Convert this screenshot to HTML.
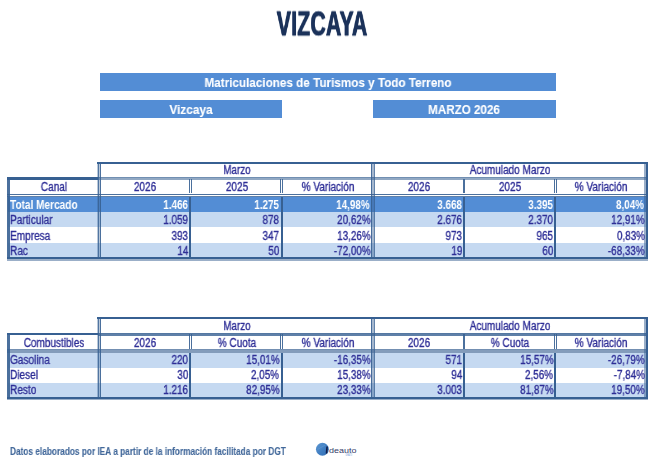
<!DOCTYPE html>
<html><head><meta charset="utf-8"><title>Vizcaya</title>
<style>
html,body{margin:0;padding:0;background:#fff;}
body{width:662px;height:467px;position:relative;overflow:hidden;font-family:"Liberation Sans",Arial,sans-serif;}
.r{position:absolute;}
.t{position:absolute;white-space:nowrap;will-change:transform;}
</style></head><body>
<div class="t" style="top:3.70px;font-size:35.8px;line-height:40px;color:#1B325A;-webkit-text-stroke:0.35px #1B325A;font-weight:bold;letter-spacing:0.45px;text-indent:0.45px;text-shadow:0.7px 0 0 #1B325A,-0.7px 0 0 #1B325A;left:121.70px;width:400px;text-align:center;transform-origin:50% 0;transform:translateY(-0.6px) scaleX(0.59);">VIZCAYA</div>
<div class="r" style="left:100px;top:73px;width:456px;height:18.4px;background:#538DD5;"></div>
<div class="r" style="left:100px;top:100px;width:182px;height:18.3px;background:#538DD5;"></div>
<div class="r" style="left:373px;top:100px;width:183px;height:18.3px;background:#538DD5;"></div>
<div class="t" style="top:74.90px;font-size:13px;line-height:15px;color:#fff;-webkit-text-stroke:0.1px #fff;font-weight:bold;left:127.80px;width:400px;text-align:center;transform-origin:50% 0;transform:scaleX(0.9);">Matriculaciones de Turismos y Todo Terreno</div>
<div class="t" style="top:101.70px;font-size:13px;line-height:15px;color:#fff;-webkit-text-stroke:0.1px #fff;font-weight:bold;left:-9.00px;width:400px;text-align:center;transform-origin:50% 0;transform:scaleX(0.91);">Vizcaya</div>
<div class="t" style="top:101.60px;font-size:12.8px;line-height:15px;color:#fff;-webkit-text-stroke:0.1px #fff;font-weight:bold;left:264.40px;width:400px;text-align:center;transform-origin:50% 0;transform:scaleX(0.91);">MARZO 2026</div>
<div class="r" style="left:98px;top:161.7px;width:548px;height:16.7px;background:#fff;"></div>
<div class="r" style="left:8px;top:196.6px;width:638px;height:15.1px;background:#538DD5;"></div>
<div class="r" style="left:8px;top:211.7px;width:638px;height:15.3px;background:#C5D9F1;"></div>
<div class="r" style="left:8px;top:227px;width:638px;height:15.7px;background:#fff;"></div>
<div class="r" style="left:8px;top:242.7px;width:638px;height:14.6px;background:#C5D9F1;"></div>
<div class="r" style="left:97.3px;top:161.7px;width:550.7px;height:2.2px;background:rgba(55,96,146,1);"></div>
<div class="r" style="left:7.3px;top:177.4px;width:90.7px;height:2.2px;background:rgba(55,96,146,1);"></div>
<div class="r" style="left:98px;top:177.4px;width:548px;height:3px;background:rgba(55,96,146,0.55);"></div>
<div class="r" style="left:98px;top:177.4px;width:548px;height:1.1px;background:rgba(55,96,146,0.35);"></div>
<div class="r" style="left:7.3px;top:193.5px;width:638.7px;height:1.3px;background:rgba(55,96,146,0.9);"></div>
<div class="r" style="left:7.3px;top:196px;width:638.7px;height:1.3px;background:rgba(55,96,146,0.8);"></div>
<div class="r" style="left:189px;top:178.9px;width:0.8px;height:14.6px;background:rgba(55,96,146,0.9);"></div>
<div class="r" style="left:190.8px;top:178.9px;width:1.1px;height:14.6px;background:rgba(55,96,146,0.9);"></div>
<div class="r" style="left:280.3px;top:178.9px;width:0.8px;height:14.6px;background:rgba(55,96,146,0.9);"></div>
<div class="r" style="left:282.1px;top:178.9px;width:1.1px;height:14.6px;background:rgba(55,96,146,0.9);"></div>
<div class="r" style="left:462.55px;top:178.9px;width:0.8px;height:14.6px;background:rgba(55,96,146,0.9);"></div>
<div class="r" style="left:464.35px;top:178.9px;width:1.1px;height:14.6px;background:rgba(55,96,146,0.9);"></div>
<div class="r" style="left:553.75px;top:178.9px;width:0.8px;height:14.6px;background:rgba(55,96,146,0.9);"></div>
<div class="r" style="left:555.55px;top:178.9px;width:1.1px;height:14.6px;background:rgba(55,96,146,0.9);"></div>
<div class="r" style="left:189.2px;top:196.6px;width:2.2px;height:60.7px;background:rgba(55,96,146,1);"></div>
<div class="r" style="left:280.5px;top:196.6px;width:2.2px;height:60.7px;background:rgba(55,96,146,1);"></div>
<div class="r" style="left:462.75px;top:196.6px;width:2.2px;height:60.7px;background:rgba(55,96,146,1);"></div>
<div class="r" style="left:553.95px;top:196.6px;width:2.2px;height:60.7px;background:rgba(55,96,146,1);"></div>
<div class="r" style="left:97.3px;top:161.7px;width:3.7px;height:95.6px;background:rgba(55,96,146,0.35);"></div>
<div class="r" style="left:97.6px;top:161.7px;width:1.2px;height:95.6px;background:rgba(55,96,146,0.8);"></div>
<div class="r" style="left:99.6px;top:161.7px;width:1.3px;height:95.6px;background:rgba(55,96,146,0.85);"></div>
<div class="r" style="left:370.9px;top:161.7px;width:4.1px;height:95.6px;background:rgba(55,96,146,0.45);"></div>
<div class="r" style="left:370.9px;top:161.7px;width:1.4px;height:95.6px;background:rgba(55,96,146,0.85);"></div>
<div class="r" style="left:373.5px;top:161.7px;width:1.3px;height:95.6px;background:rgba(55,96,146,0.6);"></div>
<div class="r" style="left:7.4px;top:177.4px;width:2.6px;height:81.9px;background:rgba(55,96,146,0.9);"></div>
<div class="r" style="left:644.3px;top:161.7px;width:1.4px;height:95.6px;background:rgba(55,96,146,0.5);"></div>
<div class="r" style="left:645.7px;top:161.7px;width:2.3px;height:97.6px;background:rgba(55,96,146,1);"></div>
<div class="r" style="left:7.3px;top:257.3px;width:640.7px;height:1.7px;background:rgba(55,96,146,1);"></div>
<div class="r" style="left:7.3px;top:259px;width:640.7px;height:1.5px;background:rgba(55,96,146,0.5);"></div>
<div class="t" style="top:163.00px;font-size:12px;line-height:14px;color:#2F2F97;-webkit-text-stroke:0.35px #2F2F97;left:36.60px;width:400px;text-align:center;transform-origin:50% 0;transform:scaleX(0.82);">Marzo</div>
<div class="t" style="top:163.00px;font-size:12px;line-height:14px;color:#2F2F97;-webkit-text-stroke:0.35px #2F2F97;left:309.90px;width:400px;text-align:center;transform-origin:50% 0;transform:scaleX(0.835);">Acumulado Marzo</div>
<div class="t" style="top:180.10px;font-size:12px;line-height:14px;color:#2F2F97;-webkit-text-stroke:0.35px #2F2F97;left:-145.70px;width:400px;text-align:center;transform-origin:50% 0;transform:scaleX(0.835);">Canal</div>
<div class="t" style="top:180.10px;font-size:12px;line-height:14px;color:#2F2F97;-webkit-text-stroke:0.35px #2F2F97;left:-54.80px;width:400px;text-align:center;transform-origin:50% 0;transform:scaleX(0.835);">2026</div>
<div class="t" style="top:180.10px;font-size:12px;line-height:14px;color:#2F2F97;-webkit-text-stroke:0.35px #2F2F97;left:36.50px;width:400px;text-align:center;transform-origin:50% 0;transform:scaleX(0.835);">2025</div>
<div class="t" style="top:180.10px;font-size:12px;line-height:14px;color:#2F2F97;-webkit-text-stroke:0.35px #2F2F97;left:127.50px;width:400px;text-align:center;transform-origin:50% 0;transform:scaleX(0.835);">% Variación</div>
<div class="t" style="top:180.10px;font-size:12px;line-height:14px;color:#2F2F97;-webkit-text-stroke:0.35px #2F2F97;left:218.90px;width:400px;text-align:center;transform-origin:50% 0;transform:scaleX(0.835);">2026</div>
<div class="t" style="top:180.10px;font-size:12px;line-height:14px;color:#2F2F97;-webkit-text-stroke:0.35px #2F2F97;left:310.00px;width:400px;text-align:center;transform-origin:50% 0;transform:scaleX(0.835);">2025</div>
<div class="t" style="top:180.10px;font-size:12px;line-height:14px;color:#2F2F97;-webkit-text-stroke:0.35px #2F2F97;left:400.60px;width:400px;text-align:center;transform-origin:50% 0;transform:scaleX(0.835);">% Variación</div>
<div class="t" style="top:197.60px;font-size:12px;line-height:14px;color:#fff;font-weight:bold;left:9.80px;transform-origin:0 0;transform:scaleX(0.84);">Total Mercado</div>
<div class="t" style="top:197.60px;font-size:12px;line-height:14px;color:#fff;font-weight:bold;right:474.00px;transform-origin:100% 0;transform:scaleX(0.825);">1.466</div>
<div class="t" style="top:197.60px;font-size:12px;line-height:14px;color:#fff;font-weight:bold;right:382.50px;transform-origin:100% 0;transform:scaleX(0.825);">1.275</div>
<div class="t" style="top:197.60px;font-size:12px;line-height:14px;color:#fff;font-weight:bold;right:292.00px;transform-origin:100% 0;transform:scaleX(0.825);">14,98%</div>
<div class="t" style="top:197.60px;font-size:12px;line-height:14px;color:#fff;font-weight:bold;right:200.00px;transform-origin:100% 0;transform:scaleX(0.825);">3.668</div>
<div class="t" style="top:197.60px;font-size:12px;line-height:14px;color:#fff;font-weight:bold;right:108.80px;transform-origin:100% 0;transform:scaleX(0.825);">3.395</div>
<div class="t" style="top:197.60px;font-size:12px;line-height:14px;color:#fff;font-weight:bold;right:18.10px;transform-origin:100% 0;transform:scaleX(0.825);">8,04%</div>
<div class="t" style="top:212.60px;font-size:12px;line-height:14px;color:#2F2F97;-webkit-text-stroke:0.35px #2F2F97;left:9.80px;transform-origin:0 0;transform:scaleX(0.84);">Particular</div>
<div class="t" style="top:212.60px;font-size:12px;line-height:14px;color:#2F2F97;-webkit-text-stroke:0.35px #2F2F97;right:474.00px;transform-origin:100% 0;transform:scaleX(0.825);">1.059</div>
<div class="t" style="top:212.60px;font-size:12px;line-height:14px;color:#2F2F97;-webkit-text-stroke:0.35px #2F2F97;right:382.50px;transform-origin:100% 0;transform:scaleX(0.825);">878</div>
<div class="t" style="top:212.60px;font-size:12px;line-height:14px;color:#2F2F97;-webkit-text-stroke:0.35px #2F2F97;right:291.20px;transform-origin:100% 0;transform:scaleX(0.825);">20,62%</div>
<div class="t" style="top:212.60px;font-size:12px;line-height:14px;color:#2F2F97;-webkit-text-stroke:0.35px #2F2F97;right:200.00px;transform-origin:100% 0;transform:scaleX(0.825);">2.676</div>
<div class="t" style="top:212.60px;font-size:12px;line-height:14px;color:#2F2F97;-webkit-text-stroke:0.35px #2F2F97;right:108.80px;transform-origin:100% 0;transform:scaleX(0.825);">2.370</div>
<div class="t" style="top:212.60px;font-size:12px;line-height:14px;color:#2F2F97;-webkit-text-stroke:0.35px #2F2F97;right:17.30px;transform-origin:100% 0;transform:scaleX(0.825);">12,91%</div>
<div class="t" style="top:228.70px;font-size:12px;line-height:14px;color:#2F2F97;-webkit-text-stroke:0.35px #2F2F97;left:9.80px;transform-origin:0 0;transform:scaleX(0.84);">Empresa</div>
<div class="t" style="top:228.70px;font-size:12px;line-height:14px;color:#2F2F97;-webkit-text-stroke:0.35px #2F2F97;right:474.00px;transform-origin:100% 0;transform:scaleX(0.825);">393</div>
<div class="t" style="top:228.70px;font-size:12px;line-height:14px;color:#2F2F97;-webkit-text-stroke:0.35px #2F2F97;right:382.50px;transform-origin:100% 0;transform:scaleX(0.825);">347</div>
<div class="t" style="top:228.70px;font-size:12px;line-height:14px;color:#2F2F97;-webkit-text-stroke:0.35px #2F2F97;right:291.20px;transform-origin:100% 0;transform:scaleX(0.825);">13,26%</div>
<div class="t" style="top:228.70px;font-size:12px;line-height:14px;color:#2F2F97;-webkit-text-stroke:0.35px #2F2F97;right:200.00px;transform-origin:100% 0;transform:scaleX(0.825);">973</div>
<div class="t" style="top:228.70px;font-size:12px;line-height:14px;color:#2F2F97;-webkit-text-stroke:0.35px #2F2F97;right:108.80px;transform-origin:100% 0;transform:scaleX(0.825);">965</div>
<div class="t" style="top:228.70px;font-size:12px;line-height:14px;color:#2F2F97;-webkit-text-stroke:0.35px #2F2F97;right:17.30px;transform-origin:100% 0;transform:scaleX(0.825);">0,83%</div>
<div class="t" style="top:243.60px;font-size:12px;line-height:14px;color:#2F2F97;-webkit-text-stroke:0.35px #2F2F97;left:9.80px;transform-origin:0 0;transform:scaleX(0.84);">Rac</div>
<div class="t" style="top:243.60px;font-size:12px;line-height:14px;color:#2F2F97;-webkit-text-stroke:0.35px #2F2F97;right:474.00px;transform-origin:100% 0;transform:scaleX(0.825);">14</div>
<div class="t" style="top:243.60px;font-size:12px;line-height:14px;color:#2F2F97;-webkit-text-stroke:0.35px #2F2F97;right:382.50px;transform-origin:100% 0;transform:scaleX(0.825);">50</div>
<div class="t" style="top:243.60px;font-size:12px;line-height:14px;color:#2F2F97;-webkit-text-stroke:0.35px #2F2F97;right:291.20px;transform-origin:100% 0;transform:scaleX(0.825);">-72,00%</div>
<div class="t" style="top:243.60px;font-size:12px;line-height:14px;color:#2F2F97;-webkit-text-stroke:0.35px #2F2F97;right:200.00px;transform-origin:100% 0;transform:scaleX(0.825);">19</div>
<div class="t" style="top:243.60px;font-size:12px;line-height:14px;color:#2F2F97;-webkit-text-stroke:0.35px #2F2F97;right:108.80px;transform-origin:100% 0;transform:scaleX(0.825);">60</div>
<div class="t" style="top:243.60px;font-size:12px;line-height:14px;color:#2F2F97;-webkit-text-stroke:0.35px #2F2F97;right:17.30px;transform-origin:100% 0;transform:scaleX(0.825);">-68,33%</div>
<div class="r" style="left:98px;top:317.1px;width:548px;height:16.7px;background:#fff;"></div>
<div class="r" style="left:8px;top:352.8px;width:638px;height:14.8px;background:#C5D9F1;"></div>
<div class="r" style="left:8px;top:367.6px;width:638px;height:15.4px;background:#fff;"></div>
<div class="r" style="left:8px;top:383px;width:638px;height:14px;background:#C5D9F1;"></div>
<div class="r" style="left:97.3px;top:317.1px;width:550.7px;height:2.2px;background:rgba(55,96,146,1);"></div>
<div class="r" style="left:7.3px;top:332.8px;width:90.7px;height:2.2px;background:rgba(55,96,146,1);"></div>
<div class="r" style="left:98px;top:332.8px;width:548px;height:1.1px;background:rgba(55,96,146,0.85);"></div>
<div class="r" style="left:98px;top:334.4px;width:548px;height:1.6px;background:rgba(55,96,146,0.8);"></div>
<div class="r" style="left:7.3px;top:349px;width:638.7px;height:3.8px;background:rgba(55,96,146,0.62);"></div>
<div class="r" style="left:7.3px;top:349px;width:638.7px;height:0.9px;background:rgba(55,96,146,0.2);"></div>
<div class="r" style="left:189px;top:334.3px;width:0.8px;height:14.7px;background:rgba(55,96,146,0.9);"></div>
<div class="r" style="left:190.8px;top:334.3px;width:1.1px;height:14.7px;background:rgba(55,96,146,0.9);"></div>
<div class="r" style="left:280.3px;top:334.3px;width:0.8px;height:14.7px;background:rgba(55,96,146,0.9);"></div>
<div class="r" style="left:282.1px;top:334.3px;width:1.1px;height:14.7px;background:rgba(55,96,146,0.9);"></div>
<div class="r" style="left:462.55px;top:334.3px;width:0.8px;height:14.7px;background:rgba(55,96,146,0.9);"></div>
<div class="r" style="left:464.35px;top:334.3px;width:1.1px;height:14.7px;background:rgba(55,96,146,0.9);"></div>
<div class="r" style="left:553.75px;top:334.3px;width:0.8px;height:14.7px;background:rgba(55,96,146,0.9);"></div>
<div class="r" style="left:555.55px;top:334.3px;width:1.1px;height:14.7px;background:rgba(55,96,146,0.9);"></div>
<div class="r" style="left:189.2px;top:352.8px;width:2.2px;height:44.2px;background:rgba(55,96,146,1);"></div>
<div class="r" style="left:280.5px;top:352.8px;width:2.2px;height:44.2px;background:rgba(55,96,146,1);"></div>
<div class="r" style="left:462.75px;top:352.8px;width:2.2px;height:44.2px;background:rgba(55,96,146,1);"></div>
<div class="r" style="left:553.95px;top:352.8px;width:2.2px;height:44.2px;background:rgba(55,96,146,1);"></div>
<div class="r" style="left:97.3px;top:317.1px;width:3.7px;height:79.9px;background:rgba(55,96,146,0.35);"></div>
<div class="r" style="left:97.6px;top:317.1px;width:1.2px;height:79.9px;background:rgba(55,96,146,0.8);"></div>
<div class="r" style="left:99.6px;top:317.1px;width:1.3px;height:79.9px;background:rgba(55,96,146,0.85);"></div>
<div class="r" style="left:370.9px;top:317.1px;width:4.1px;height:79.9px;background:rgba(55,96,146,0.45);"></div>
<div class="r" style="left:370.9px;top:317.1px;width:1.4px;height:79.9px;background:rgba(55,96,146,0.85);"></div>
<div class="r" style="left:373.5px;top:317.1px;width:1.3px;height:79.9px;background:rgba(55,96,146,0.6);"></div>
<div class="r" style="left:7.4px;top:332.8px;width:2.6px;height:66.2px;background:rgba(55,96,146,0.9);"></div>
<div class="r" style="left:644.3px;top:317.1px;width:1.4px;height:79.9px;background:rgba(55,96,146,0.5);"></div>
<div class="r" style="left:645.7px;top:317.1px;width:2.3px;height:81.9px;background:rgba(55,96,146,1);"></div>
<div class="r" style="left:7.3px;top:397px;width:640.7px;height:1.7px;background:rgba(55,96,146,1);"></div>
<div class="r" style="left:7.3px;top:398.7px;width:640.7px;height:1.5px;background:rgba(55,96,146,0.5);"></div>
<div class="t" style="top:318.70px;font-size:12px;line-height:14px;color:#2F2F97;-webkit-text-stroke:0.35px #2F2F97;left:36.60px;width:400px;text-align:center;transform-origin:50% 0;transform:scaleX(0.82);">Marzo</div>
<div class="t" style="top:318.70px;font-size:12px;line-height:14px;color:#2F2F97;-webkit-text-stroke:0.35px #2F2F97;left:309.90px;width:400px;text-align:center;transform-origin:50% 0;transform:scaleX(0.835);">Acumulado Marzo</div>
<div class="t" style="top:336.00px;font-size:12px;line-height:14px;color:#2F2F97;-webkit-text-stroke:0.35px #2F2F97;left:-145.70px;width:400px;text-align:center;transform-origin:50% 0;transform:scaleX(0.835);">Combustibles</div>
<div class="t" style="top:336.00px;font-size:12px;line-height:14px;color:#2F2F97;-webkit-text-stroke:0.35px #2F2F97;left:-54.80px;width:400px;text-align:center;transform-origin:50% 0;transform:scaleX(0.835);">2026</div>
<div class="t" style="top:336.00px;font-size:12px;line-height:14px;color:#2F2F97;-webkit-text-stroke:0.35px #2F2F97;left:36.50px;width:400px;text-align:center;transform-origin:50% 0;transform:scaleX(0.835);">% Cuota</div>
<div class="t" style="top:336.00px;font-size:12px;line-height:14px;color:#2F2F97;-webkit-text-stroke:0.35px #2F2F97;left:127.50px;width:400px;text-align:center;transform-origin:50% 0;transform:scaleX(0.835);">% Variación</div>
<div class="t" style="top:336.00px;font-size:12px;line-height:14px;color:#2F2F97;-webkit-text-stroke:0.35px #2F2F97;left:218.90px;width:400px;text-align:center;transform-origin:50% 0;transform:scaleX(0.835);">2026</div>
<div class="t" style="top:336.00px;font-size:12px;line-height:14px;color:#2F2F97;-webkit-text-stroke:0.35px #2F2F97;left:310.00px;width:400px;text-align:center;transform-origin:50% 0;transform:scaleX(0.835);">% Cuota</div>
<div class="t" style="top:336.00px;font-size:12px;line-height:14px;color:#2F2F97;-webkit-text-stroke:0.35px #2F2F97;left:400.60px;width:400px;text-align:center;transform-origin:50% 0;transform:scaleX(0.835);">% Variación</div>
<div class="t" style="top:352.90px;font-size:12px;line-height:14px;color:#2F2F97;-webkit-text-stroke:0.35px #2F2F97;left:9.80px;transform-origin:0 0;transform:scaleX(0.84);">Gasolina</div>
<div class="t" style="top:352.90px;font-size:12px;line-height:14px;color:#2F2F97;-webkit-text-stroke:0.35px #2F2F97;right:474.00px;transform-origin:100% 0;transform:scaleX(0.825);">220</div>
<div class="t" style="top:352.90px;font-size:12px;line-height:14px;color:#2F2F97;-webkit-text-stroke:0.35px #2F2F97;right:382.50px;transform-origin:100% 0;transform:scaleX(0.825);">15,01%</div>
<div class="t" style="top:352.90px;font-size:12px;line-height:14px;color:#2F2F97;-webkit-text-stroke:0.35px #2F2F97;right:291.20px;transform-origin:100% 0;transform:scaleX(0.825);">-16,35%</div>
<div class="t" style="top:352.90px;font-size:12px;line-height:14px;color:#2F2F97;-webkit-text-stroke:0.35px #2F2F97;right:200.00px;transform-origin:100% 0;transform:scaleX(0.825);">571</div>
<div class="t" style="top:352.90px;font-size:12px;line-height:14px;color:#2F2F97;-webkit-text-stroke:0.35px #2F2F97;right:108.80px;transform-origin:100% 0;transform:scaleX(0.825);">15,57%</div>
<div class="t" style="top:352.90px;font-size:12px;line-height:14px;color:#2F2F97;-webkit-text-stroke:0.35px #2F2F97;right:17.30px;transform-origin:100% 0;transform:scaleX(0.825);">-26,79%</div>
<div class="t" style="top:368.00px;font-size:12px;line-height:14px;color:#2F2F97;-webkit-text-stroke:0.35px #2F2F97;left:9.80px;transform-origin:0 0;transform:scaleX(0.84);">Diesel</div>
<div class="t" style="top:368.00px;font-size:12px;line-height:14px;color:#2F2F97;-webkit-text-stroke:0.35px #2F2F97;right:474.00px;transform-origin:100% 0;transform:scaleX(0.825);">30</div>
<div class="t" style="top:368.00px;font-size:12px;line-height:14px;color:#2F2F97;-webkit-text-stroke:0.35px #2F2F97;right:382.50px;transform-origin:100% 0;transform:scaleX(0.825);">2,05%</div>
<div class="t" style="top:368.00px;font-size:12px;line-height:14px;color:#2F2F97;-webkit-text-stroke:0.35px #2F2F97;right:291.20px;transform-origin:100% 0;transform:scaleX(0.825);">15,38%</div>
<div class="t" style="top:368.00px;font-size:12px;line-height:14px;color:#2F2F97;-webkit-text-stroke:0.35px #2F2F97;right:200.00px;transform-origin:100% 0;transform:scaleX(0.825);">94</div>
<div class="t" style="top:368.00px;font-size:12px;line-height:14px;color:#2F2F97;-webkit-text-stroke:0.35px #2F2F97;right:108.80px;transform-origin:100% 0;transform:scaleX(0.825);">2,56%</div>
<div class="t" style="top:368.00px;font-size:12px;line-height:14px;color:#2F2F97;-webkit-text-stroke:0.35px #2F2F97;right:17.30px;transform-origin:100% 0;transform:scaleX(0.825);">-7,84%</div>
<div class="t" style="top:382.70px;font-size:12px;line-height:14px;color:#2F2F97;-webkit-text-stroke:0.35px #2F2F97;left:9.80px;transform-origin:0 0;transform:scaleX(0.84);">Resto</div>
<div class="t" style="top:382.70px;font-size:12px;line-height:14px;color:#2F2F97;-webkit-text-stroke:0.35px #2F2F97;right:474.00px;transform-origin:100% 0;transform:scaleX(0.825);">1.216</div>
<div class="t" style="top:382.70px;font-size:12px;line-height:14px;color:#2F2F97;-webkit-text-stroke:0.35px #2F2F97;right:382.50px;transform-origin:100% 0;transform:scaleX(0.825);">82,95%</div>
<div class="t" style="top:382.70px;font-size:12px;line-height:14px;color:#2F2F97;-webkit-text-stroke:0.35px #2F2F97;right:291.20px;transform-origin:100% 0;transform:scaleX(0.825);">23,33%</div>
<div class="t" style="top:382.70px;font-size:12px;line-height:14px;color:#2F2F97;-webkit-text-stroke:0.35px #2F2F97;right:200.00px;transform-origin:100% 0;transform:scaleX(0.825);">3.003</div>
<div class="t" style="top:382.70px;font-size:12px;line-height:14px;color:#2F2F97;-webkit-text-stroke:0.35px #2F2F97;right:108.80px;transform-origin:100% 0;transform:scaleX(0.825);">81,87%</div>
<div class="t" style="top:382.70px;font-size:12px;line-height:14px;color:#2F2F97;-webkit-text-stroke:0.35px #2F2F97;right:17.30px;transform-origin:100% 0;transform:scaleX(0.825);">19,50%</div>
<div class="t" style="top:446.30px;font-size:10px;line-height:11px;color:#42689A;-webkit-text-stroke:0.1px #42689A;font-weight:bold;left:10.00px;transform-origin:0 0;transform:scaleX(0.828);">Datos elaborados por IEA a partir de la información facilitada por DGT</div>
<svg class="r" style="left:312px;top:440px" width="50" height="20" viewBox="0 0 50 20">
<defs><linearGradient id="lg" x1="0" y1="0" x2="1" y2="1"><stop offset="0" stop-color="#5E98D2"/><stop offset="0.55" stop-color="#3F7DC1"/><stop offset="1" stop-color="#3370B6"/></linearGradient></defs>
<circle cx="10.4" cy="9.3" r="6.45" fill="url(#lg)"/>
<path d="M5.5 9.5 L13 5.2" stroke="#7FB0E0" stroke-width="0.5" opacity="0.6"/>
<polygon points="14.3,6.5 15.9,6.5 15.3,13.6 13.7,13.6" fill="#101C48"/>
<text x="17.1" y="13.4" font-family="Liberation Sans, sans-serif" font-size="8" fill="#333A68" textLength="27.4" lengthAdjust="spacingAndGlyphs">deauto</text>
<text x="33.7" y="15.7" font-family="Liberation Sans, sans-serif" font-size="2.6" fill="#5B8BD0" textLength="6.5" lengthAdjust="spacingAndGlyphs">IDEAUTO</text>
</svg>
</body></html>
